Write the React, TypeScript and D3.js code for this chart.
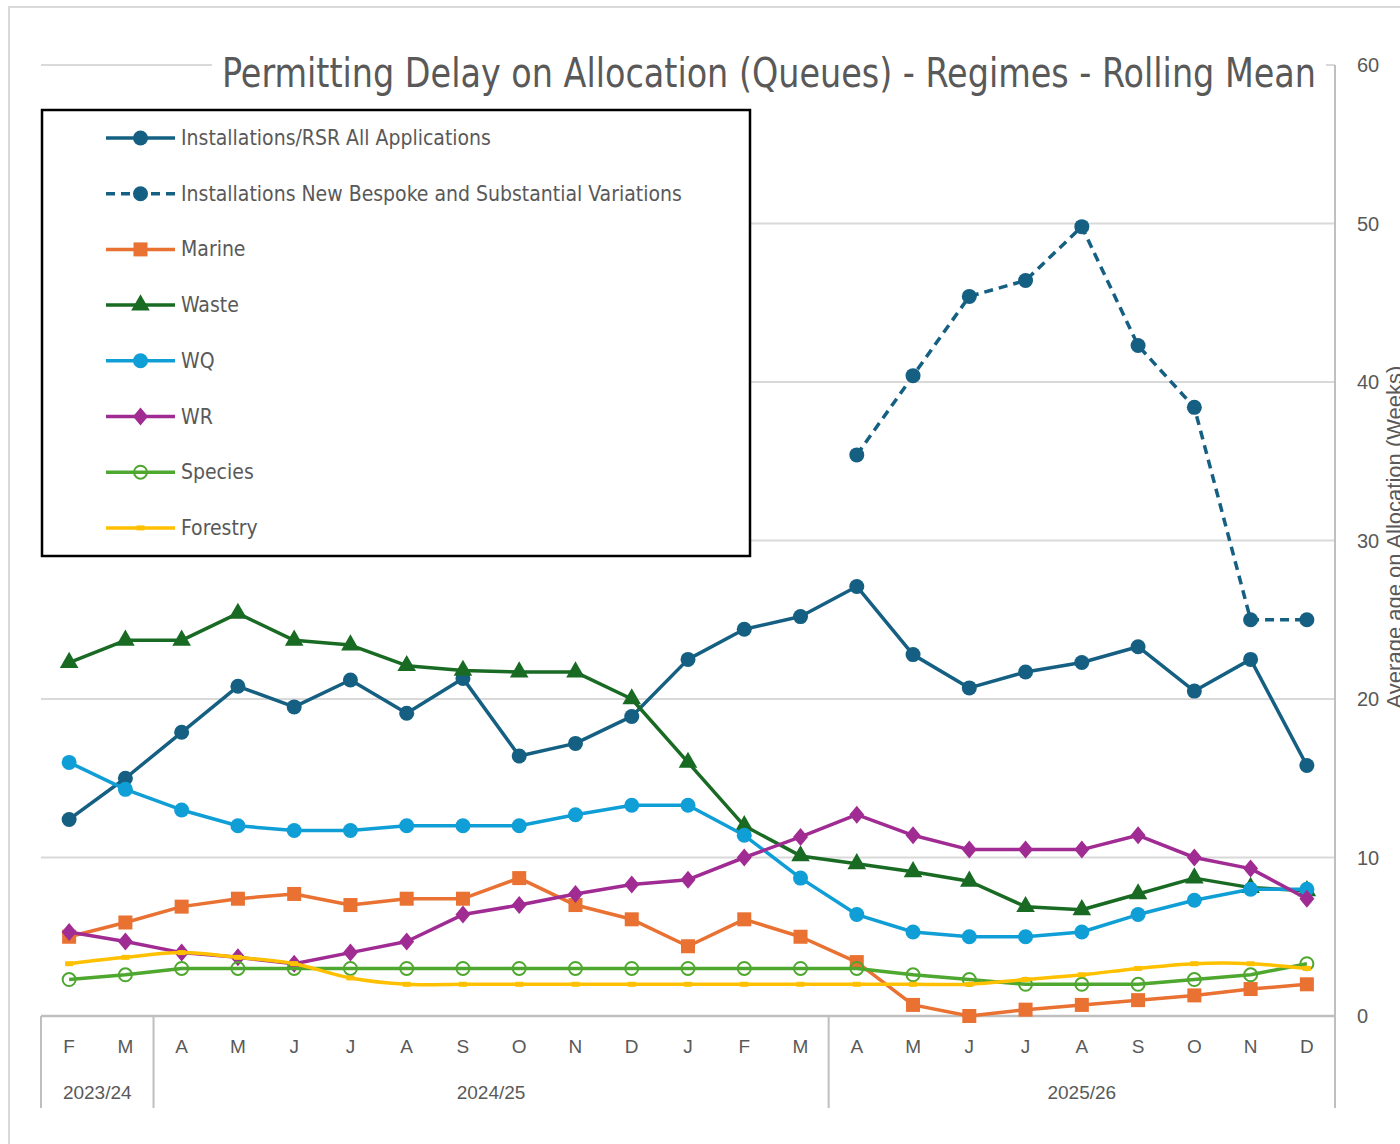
import React, { useRef, useEffect } from "react";
import * as d3 from "d3";

const months = ["F", "M", "A", "M", "J", "J", "A", "S", "O", "N", "D", "J", "F", "M", "A", "M", "J", "J", "A", "S", "O", "N", "D"];
const years = [
  { label: "2023/24", start: 0, end: 1 },
  { label: "2024/25", start: 2, end: 13 },
  { label: "2025/26", start: 14, end: 22 },
];

const installationsAll = [12.4, 15.0, 17.9, 20.8, 19.5, 21.2, 19.1, 21.3, 16.4, 17.2, 18.9, 22.5, 24.4, 25.2, 27.1, 22.8, 20.7, 21.7, 22.3, 23.3, 20.5, 22.5, 15.8];
const installationsNew = [null, null, null, null, null, null, null, null, null, null, null, null, null, null, 35.4, 40.4, 45.4, 46.4, 49.8, 42.3, 38.4, 25.0, 25.0];
const marine = [5.0, 5.9, 6.9, 7.4, 7.7, 7.0, 7.4, 7.4, 8.7, 7.0, 6.1, 4.4, 6.1, 5.0, 3.4, 0.7, 0.0, 0.4, 0.7, 1.0, 1.3, 1.7, 2.0];
const waste = [22.3, 23.7, 23.7, 25.4, 23.7, 23.4, 22.1, 21.8, 21.7, 21.7, 20.0, 16.0, 12.0, 10.1, 9.6, 9.1, 8.5, 6.9, 6.7, 7.7, 8.7, 8.1, 7.9];
const wq = [16.0, 14.3, 13.0, 12.0, 11.7, 11.7, 12.0, 12.0, 12.0, 12.7, 13.3, 13.3, 11.4, 8.7, 6.4, 5.3, 5.0, 5.0, 5.3, 6.4, 7.3, 8.0, 8.0];
const wr = [5.3, 4.7, 4.0, 3.7, 3.3, 4.0, 4.7, 6.4, 7.0, 7.7, 8.3, 8.6, 10.0, 11.3, 12.7, 11.4, 10.5, 10.5, 10.5, 11.4, 10.0, 9.3, 7.4];
const species = [2.3, 2.6, 3.0, 3.0, 3.0, 3.0, 3.0, 3.0, 3.0, 3.0, 3.0, 3.0, 3.0, 3.0, 3.0, 2.6, 2.3, 2.0, 2.0, 2.0, 2.3, 2.6, 3.3];
const forestry = [3.3, 3.7, 4.0, 3.7, 3.3, 2.4, 2.0, 2.0, 2.0, 2.0, 2.0, 2.0, 2.0, 2.0, 2.0, 2.0, 2.0, 2.3, 2.6, 3.0, 3.3, 3.3, 3.0];

const yTicks = [0, 10, 20, 30, 40, 50, 60];

type Marker = "circle" | "square" | "triangle" | "diamond" | "ring" | "dash";

interface Series {
  name: string;
  values: (number | null)[];
  color: string;
  marker: Marker;
  dashed?: boolean;
  smooth?: boolean;
}

const series: Series[] = [
  { name: "Installations/RSR All Applications", values: installationsAll, color: "#156082", marker: "circle" },
  { name: "Installations New Bespoke and Substantial Variations", values: installationsNew, color: "#156082", marker: "circle", dashed: true },
  { name: "Marine", values: marine, color: "#E97132", marker: "square" },
  { name: "Waste", values: waste, color: "#196B24", marker: "triangle" },
  { name: "WQ", values: wq, color: "#0F9ED5", marker: "circle" },
  { name: "WR", values: wr, color: "#A02B93", marker: "diamond" },
  { name: "Species", values: species, color: "#4EA72E", marker: "ring" },
  { name: "Forestry", values: forestry, color: "#FFC000", marker: "dash", smooth: true },
];

const TEXT = "#595959";
const GRID = "#d9d9d9";
const AXIS = "#bfbfbf";
const NARROW = "'Liberation Sans Narrow', 'DejaVu Sans Condensed', 'Liberation Sans', sans-serif";
const SANS = "'Liberation Sans', Arial, sans-serif";

const drawMarker = (g: any, type: Marker, cx: number, cy: number, color: string) => {
  if (type === "circle") {
    g.append("circle").attr("cx", cx).attr("cy", cy).attr("r", 7.5).attr("fill", color);
  } else if (type === "square") {
    g.append("rect").attr("x", cx - 7).attr("y", cy - 7).attr("width", 14).attr("height", 14).attr("fill", color);
  } else if (type === "triangle") {
    g.append("path").attr("transform", `translate(${cx},${cy})`)
      .attr("d", d3.symbol().type(d3.symbolTriangle).size(150)()).attr("fill", color);
  } else if (type === "diamond") {
    g.append("path").attr("transform", `translate(${cx},${cy})`)
      .attr("d", "M0,-9L7.5,0L0,9L-7.5,0Z").attr("fill", color);
  } else if (type === "ring") {
    g.append("circle").attr("cx", cx).attr("cy", cy).attr("r", 6.5).attr("fill", "none")
      .attr("stroke", color).attr("stroke-width", 2);
  } else if (type === "dash") {
    g.append("rect").attr("x", cx - 4).attr("y", cy - 2.5).attr("width", 8).attr("height", 5).attr("fill", color);
  }
};

export default function App() {
  const svgRef = useRef<SVGSVGElement>(null);

  useEffect(() => {
    if (!svgRef.current) return;
    const svg = d3.select(svgRef.current);
    svg.selectAll("*").remove();

    const left = 41, right = 1335, top = 65, bottom = 1016, axisBottom = 1108;

    const x = d3.scaleBand<number>()
      .domain(months.map((_, i) => i))
      .range([left, right]);
    const cx = (i: number) => (x(i) as number) + x.bandwidth() / 2;

    const y = d3.scaleLinear().domain([0, 60]).range([bottom, top]);

    // chart border
    svg.append("rect").attr("x", 9).attr("y", 7).attr("width", 1500).attr("height", 1400)
      .attr("fill", "#fff").attr("stroke", GRID).attr("stroke-width", 2);

    // gridlines
    svg.append("g").selectAll("line").data(yTicks.filter(t => t > 0)).join("line")
      .attr("x1", left).attr("x2", right)
      .attr("y1", d => y(d)).attr("y2", d => y(d))
      .attr("stroke", GRID).attr("stroke-width", 2);

    // y axis (right)
    svg.append("line").attr("x1", right).attr("x2", right).attr("y1", top).attr("y2", axisBottom)
      .attr("stroke", AXIS).attr("stroke-width", 2);
    svg.append("g").selectAll("text").data(yTicks).join("text")
      .attr("x", 1357).attr("y", d => y(d) + 7)
      .attr("font-family", SANS).attr("font-size", 20).attr("fill", TEXT)
      .text(d => d);

    svg.append("text")
      .attr("transform", `translate(1402,537) rotate(-90)`)
      .attr("text-anchor", "middle")
      .attr("font-family", SANS).attr("font-size", 22).attr("fill", TEXT)
      .text("Average age on Allocation (Weeks)");

    // category axis
    svg.append("line").attr("x1", left).attr("x2", right).attr("y1", bottom).attr("y2", bottom)
      .attr("stroke", AXIS).attr("stroke-width", 2.5);
    const seps = [0, ...years.map(yr => yr.end + 1)];
    svg.append("g").selectAll("line").data(seps).join("line")
      .attr("x1", d => (d < months.length ? (x(d) as number) : right))
      .attr("x2", d => (d < months.length ? (x(d) as number) : right))
      .attr("y1", bottom).attr("y2", axisBottom)
      .attr("stroke", AXIS).attr("stroke-width", 2);
    svg.append("g").selectAll("text").data(months).join("text")
      .attr("x", (_, i) => cx(i)).attr("y", 1053)
      .attr("text-anchor", "middle")
      .attr("font-family", SANS).attr("font-size", 19).attr("fill", TEXT)
      .text(d => d);
    svg.append("g").selectAll("text").data(years).join("text")
      .attr("x", d => ((x(d.start) as number) + (x(d.end) as number) + x.bandwidth()) / 2)
      .attr("y", 1099)
      .attr("text-anchor", "middle")
      .attr("font-family", SANS).attr("font-size", 19).attr("fill", TEXT)
      .text(d => d.label);

    // series
    series.forEach(s => {
      const line = d3.line<number | null>()
        .defined(d => d !== null)
        .x((_, i) => cx(i))
        .y(d => y(d as number))
        .curve(s.smooth ? d3.curveCatmullRom.alpha(0.5) : d3.curveLinear);
      svg.append("path").datum(s.values)
        .attr("fill", "none").attr("stroke", s.color).attr("stroke-width", 3.5)
        .attr("stroke-linejoin", "round")
        .attr("stroke-dasharray", s.dashed ? "9,6" : null)
        .attr("d", line);
      const g = svg.append("g");
      s.values.forEach((v, i) => {
        if (v === null) return;
        drawMarker(g, s.marker, cx(i), y(v), s.color);
      });
    });

    // title
    svg.append("rect").attr("x", 212).attr("y", 40).attr("width", 1114).attr("height", 52).attr("fill", "#fff");
    svg.append("text")
      .attr("x", 222).attr("y", 87)
      .attr("font-family", NARROW).attr("font-size", 40).attr("fill", TEXT)
      .attr("textLength", 1094).attr("lengthAdjust", "spacingAndGlyphs")
      .text("Permitting Delay on Allocation (Queues) - Regimes - Rolling Mean");

    // legend
    const lg = svg.append("g");
    lg.append("rect").attr("x", 42).attr("y", 110).attr("width", 708).attr("height", 446)
      .attr("fill", "#fff").attr("stroke", "#000").attr("stroke-width", 2.5);
    series.forEach((s, i) => {
      const ly = 138 + i * 55.7;
      lg.append("line").attr("x1", 106).attr("x2", 175).attr("y1", ly).attr("y2", ly)
        .attr("stroke", s.color).attr("stroke-width", 3.5)
        .attr("stroke-dasharray", s.dashed ? "9,6" : null);
      drawMarker(lg, s.marker, 140.5, ly, s.color);
      lg.append("text").attr("x", 181).attr("y", ly + 7)
        .attr("font-family", NARROW).attr("font-size", 21).attr("fill", TEXT)
        .text(s.name);
    });
  }, []);

  return (
    <svg ref={svgRef} width={1400} height={1144}
      style={{ position: "absolute", left: 0, top: 0, background: "#fff" }} />
  );
}
